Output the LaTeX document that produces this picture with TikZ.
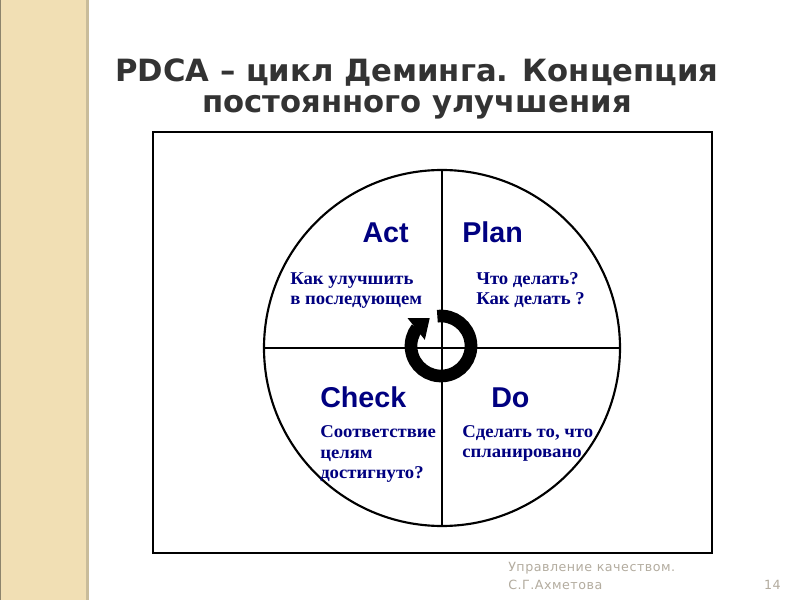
\documentclass[tikz,border=0pt]{standalone}
\usepackage{fontspec}
\setmainfont{Liberation Serif}
\newfontfamily\notefont[FakeStretch=1.04]{Liberation Serif}
\newfontfamily\titlefont{DejaVu Sans}
\newfontfamily\footfont[LetterSpace=4]{DejaVu Sans}
\newfontfamily\phasefont{Liberation Sans}
\usepackage{xcolor}
\usetikzlibrary{arrows.meta, calc, positioning, bending}
\definecolor{navy}{HTML}{000080}
\definecolor{titlegray}{HTML}{333333}
\definecolor{sand}{HTML}{F1DFB4}
\definecolor{sandedge}{HTML}{C9BC9A}
\definecolor{footgray}{HTML}{B3AC9F}

\begin{document}
\begin{tikzpicture}[x=0.75pt, y=0.75pt, >=Stealth,
  phase/.style={font=\phasefont\bfseries\fontsize{21.5}{24}\selectfont, text=navy, inner sep=0pt},
  note/.style={font=\notefont\bfseries\fontsize{13.5}{15.4}\selectfont, text=navy, inner sep=0pt, align=left},
  foot/.style={font=\footfont\fontsize{9.5}{12.75}\selectfont, text=footgray, inner sep=0pt, align=left}]
\useasboundingbox (0,0) rectangle (800,600);
\fill[white] (0,0) rectangle (800,600);

% Side strip
\fill[sand] (0,0) rectangle (86,600);
\fill[sandedge] (86,0) rectangle (89,600);
\draw[sandedge!70!black, line width=1pt] (0.5,0) -- (0.5,600);

% Title
\node[font=\titlefont\bfseries\fontsize{23}{23.3}\selectfont, text=titlegray, align=center, inner sep=0pt, anchor=base]
  (title) at (417,487) {PDCA – цикл Деминга. Концепция\\постоянного улучшения};

% Frame and wheel
\node[draw, line width=1.6pt, minimum width=419.25pt, minimum height=315.75pt, inner sep=0pt] (frame) at (432.5,257.5) {};
\node[draw, circle, line width=1.6pt, minimum size=267pt, inner sep=0pt, outer sep=0pt] (wheel) at (442,252) {};
\draw[line width=1pt] (wheel.north) -- (wheel.south);
\draw[line width=1.6pt] (wheel.west) -- (wheel.east);

% Cycle arrow
\coordinate (hub) at (441,254);
\draw[line width=9.5pt, -{Triangle[length=13pt, width=20pt, flex]}]
  ($(hub)+(97:30)$) arc[start angle=97, end angle=-248, radius=30];

% Phases
\node[phase, anchor=base east] (act) at (409,357) {Act};
\node[phase, anchor=base west] (plan) at (462,357) {Plan};
\node[phase, anchor=base west] (check) at (320,192) {Check};
\node[phase, anchor=base west] (do) at (491,192) {Do};

% Notes (base = last line)
\node[note, anchor=base west] (actnote) at (290,295) {Как улучшить\\в последующем};
\node[note, anchor=base west] (plannote) at (476,295) {Что делать?\\Как делать ?};
\node[note, anchor=base west] (checknote) at (320,121) {Соответствие\\целям\\достигнуто?};
\node[note, anchor=base west] (donote) at (462,142) {Сделать то, что\\спланировано};

% Footer
\node[foot, anchor=base west] (author) at (508,11) {Управление качеством.\\С.Г.Ахметова};
\node[foot, anchor=base east] (page) at (781,11) {14};
\end{tikzpicture}
\end{document}
